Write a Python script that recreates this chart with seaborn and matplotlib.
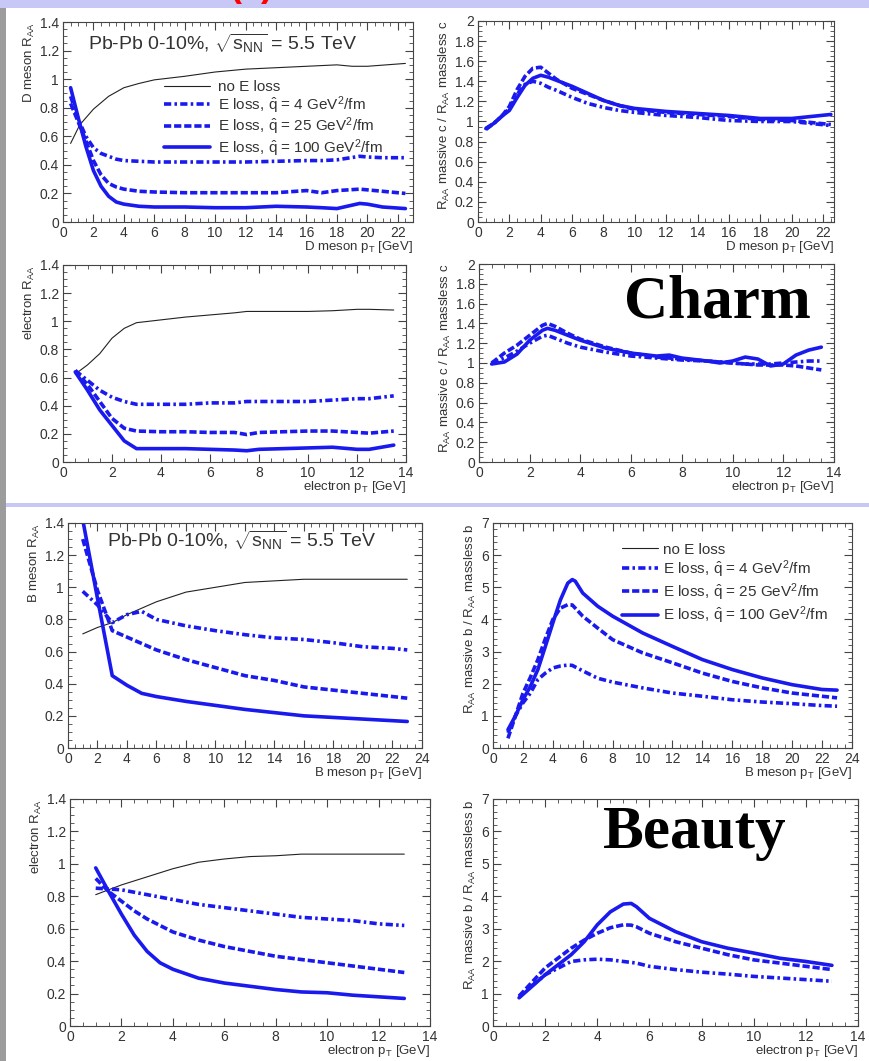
import numpy as np
import pandas as pd
import matplotlib
matplotlib.use("Agg")
import matplotlib.pyplot as plt
import seaborn as sns
from matplotlib.ticker import MultipleLocator, FuncFormatter
from matplotlib.lines import Line2D
from matplotlib.patches import Rectangle

# ---------------- data ----------------
# Charm, D meson R_AA
d_pt_noloss = [0.5, 1.1, 2, 3, 4, 5, 6, 8, 10, 12, 14, 16, 18, 19, 20, 22.5]
d_raa_noloss = [0.55, 0.68, 0.79, 0.88, 0.94, 0.97, 0.995, 1.02, 1.05, 1.07, 1.08, 1.09, 1.10, 1.09, 1.09, 1.11]
d_pt = [0.5, 1, 1.5, 2, 2.5, 3, 3.5, 4, 5, 6, 8, 10, 12, 14, 16, 17, 18, 19.5, 20, 21, 22.5]
d_raa_q4 = [0.88, 0.72, 0.60, 0.52, 0.48, 0.46, 0.44, 0.43, 0.425, 0.42, 0.42, 0.42, 0.42, 0.425, 0.43, 0.43, 0.435, 0.46, 0.455, 0.45, 0.45]
d_raa_q25 = [0.83, 0.70, 0.57, 0.43, 0.33, 0.27, 0.245, 0.23, 0.215, 0.21, 0.205, 0.205, 0.205, 0.205, 0.22, 0.205, 0.22, 0.23, 0.225, 0.215, 0.20]
d_raa_q100 = [0.94, 0.73, 0.53, 0.36, 0.25, 0.18, 0.14, 0.125, 0.11, 0.105, 0.105, 0.10, 0.10, 0.11, 0.105, 0.10, 0.094, 0.13, 0.125, 0.105, 0.094]

# Charm, D meson ratio massive/massless
dr_pt = [0.5, 1, 1.5, 2, 2.5, 3, 3.5, 4, 4.5, 5, 6, 7, 8, 9, 10, 12, 14, 16, 18, 20, 22.5]
dr_q4 = [0.92, 0.98, 1.05, 1.13, 1.27, 1.37, 1.40, 1.38, 1.34, 1.31, 1.24, 1.18, 1.14, 1.11, 1.09, 1.06, 1.04, 1.01, 1.00, 1.00, 0.96]
dr_q25 = [0.93, 0.98, 1.05, 1.15, 1.32, 1.45, 1.53, 1.54, 1.48, 1.42, 1.33, 1.27, 1.21, 1.16, 1.12, 1.09, 1.07, 1.05, 1.02, 1.01, 0.97]
dr_q100 = [0.93, 0.98, 1.05, 1.11, 1.24, 1.36, 1.43, 1.46, 1.44, 1.41, 1.35, 1.28, 1.21, 1.16, 1.13, 1.10, 1.08, 1.06, 1.03, 1.03, 1.07]

# Charm, electron R_AA
ce_pt = [0.5, 1, 1.5, 2, 2.5, 3, 4, 5, 6, 7, 7.5, 8, 9, 10, 11, 12, 12.5, 13.5]
ce_noloss = [0.625, 0.69, 0.77, 0.88, 0.95, 0.99, 1.01, 1.03, 1.045, 1.06, 1.07, 1.07, 1.07, 1.07, 1.075, 1.085, 1.085, 1.08]
ce_q4 = [0.65, 0.58, 0.51, 0.46, 0.43, 0.41, 0.41, 0.41, 0.42, 0.42, 0.43, 0.43, 0.43, 0.43, 0.44, 0.45, 0.45, 0.47]
ce_q25 = [0.65, 0.55, 0.43, 0.31, 0.24, 0.22, 0.215, 0.215, 0.21, 0.21, 0.195, 0.21, 0.215, 0.22, 0.22, 0.21, 0.205, 0.22]
ce_q100 = [0.64, 0.51, 0.37, 0.26, 0.15, 0.095, 0.095, 0.095, 0.09, 0.085, 0.08, 0.09, 0.095, 0.10, 0.105, 0.09, 0.09, 0.12]

# Charm, electron ratio
cer_pt = [0.5, 1, 1.5, 2, 2.5, 2.7, 3, 3.5, 4, 5, 6, 7, 7.5, 8, 9, 9.5, 10, 10.5, 11, 11.5, 12, 12.5, 13, 13.5]
cer_q4 = [1.0, 1.05, 1.12, 1.2, 1.27, 1.28, 1.25, 1.20, 1.16, 1.11, 1.07, 1.05, 1.04, 1.03, 1.02, 1.01, 1.00, 0.99, 0.99, 0.99, 1.00, 1.01, 1.02, 1.02]
cer_q25 = [1.0, 1.1, 1.18, 1.28, 1.38, 1.40, 1.37, 1.30, 1.24, 1.16, 1.10, 1.06, 1.05, 1.04, 1.02, 1.01, 1.00, 0.99, 0.98, 0.98, 0.98, 0.97, 0.95, 0.93]
cer_q100 = [0.99, 1.01, 1.09, 1.23, 1.33, 1.35, 1.33, 1.28, 1.23, 1.15, 1.10, 1.07, 1.08, 1.05, 1.02, 1.00, 1.02, 1.06, 1.04, 0.97, 0.99, 1.08, 1.13, 1.16]

# Beauty, B meson R_AA
b_pt_noloss = [1, 2, 3, 4, 5, 6, 7, 8, 10, 12, 14, 16, 18, 20, 23]
b_raa_noloss = [0.71, 0.75, 0.78, 0.83, 0.87, 0.91, 0.94, 0.97, 1.00, 1.03, 1.04, 1.05, 1.05, 1.05, 1.05]
b_pt = [1, 2, 3, 4, 5, 6, 8, 10, 12, 14, 16, 18, 20, 22, 23]
b_raa_q4 = [0.975, 0.89, 0.78, 0.83, 0.85, 0.80, 0.76, 0.73, 0.705, 0.685, 0.675, 0.655, 0.63, 0.62, 0.61]
b_raa_q25 = [1.30, 0.98, 0.73, 0.69, 0.65, 0.61, 0.55, 0.50, 0.45, 0.42, 0.38, 0.36, 0.34, 0.32, 0.31]
b_raa_q100 = [1.42, 0.93, 0.45, 0.39, 0.34, 0.32, 0.29, 0.265, 0.24, 0.22, 0.20, 0.19, 0.18, 0.17, 0.165]

# Beauty, B meson ratio
br_pt = [1, 1.5, 2, 2.5, 3, 3.5, 4, 4.5, 5, 5.3, 5.5, 6, 7, 8, 10, 12, 14, 16, 18, 20, 22, 23]
br_q4 = [0.47, 1.0, 1.4, 1.71, 2.13, 2.33, 2.49, 2.55, 2.58, 2.57, 2.52, 2.40, 2.17, 2.05, 1.87, 1.71, 1.61, 1.50, 1.43, 1.38, 1.32, 1.30]
br_q25 = [0.30, 1.0, 1.7, 2.2, 2.75, 3.4, 4.0, 4.35, 4.46, 4.45, 4.35, 4.10, 3.73, 3.37, 2.96, 2.65, 2.33, 2.07, 1.87, 1.71, 1.61, 1.56]
br_q100 = [0.57, 1.0, 1.5, 1.92, 2.44, 3.16, 3.89, 4.6, 5.13, 5.24, 5.19, 4.82, 4.41, 4.10, 3.58, 3.16, 2.75, 2.44, 2.18, 1.97, 1.82, 1.80]

# Beauty, electron R_AA
be_pt = [1, 1.5, 2, 2.5, 3, 3.5, 4, 5, 6, 7, 8, 9, 10, 11, 12, 13]
be_noloss = [0.81, 0.84, 0.87, 0.895, 0.92, 0.945, 0.97, 1.01, 1.03, 1.045, 1.05, 1.06, 1.06, 1.06, 1.06, 1.06]
be_q4 = [0.85, 0.845, 0.84, 0.825, 0.81, 0.795, 0.78, 0.75, 0.73, 0.71, 0.69, 0.67, 0.66, 0.65, 0.63, 0.62]
be_q25 = [0.91, 0.83, 0.77, 0.71, 0.66, 0.62, 0.58, 0.53, 0.49, 0.46, 0.43, 0.41, 0.39, 0.37, 0.35, 0.33]
be_q100 = [0.975, 0.83, 0.69, 0.56, 0.46, 0.39, 0.35, 0.295, 0.265, 0.245, 0.225, 0.21, 0.205, 0.19, 0.18, 0.17]

# Beauty, electron ratio
ber_pt = [1, 2, 3, 3.5, 4, 4.5, 5, 5.3, 5.5, 6, 7, 8, 9, 10, 11, 12, 13]
ber_q4 = [0.92, 1.58, 1.99, 2.04, 2.06, 2.04, 1.99, 1.96, 1.94, 1.84, 1.74, 1.66, 1.60, 1.53, 1.48, 1.43, 1.38]
ber_q25 = [0.92, 1.79, 2.4, 2.65, 2.86, 3.03, 3.12, 3.11, 3.06, 2.86, 2.60, 2.40, 2.20, 2.04, 1.94, 1.84, 1.74]
ber_q100 = [0.87, 1.58, 2.2, 2.6, 3.12, 3.52, 3.76, 3.78, 3.68, 3.32, 2.91, 2.60, 2.40, 2.25, 2.09, 1.99, 1.87]

legend_labels = ["no E loss",
                 r"E loss, $\hat{\mathrm{q}}$ = 4 GeV$^{2}$/fm",
                 r"E loss, $\hat{\mathrm{q}}$ = 25 GeV$^{2}$/fm",
                 r"E loss, $\hat{\mathrm{q}}$ = 100 GeV$^{2}$/fm"]

# ---------------- style ----------------
sns.set_theme(style="ticks")
plt.rcParams["font.family"] = ["Liberation Sans", "DejaVu Sans"]
plt.rcParams["mathtext.fontset"] = "custom"
plt.rcParams["mathtext.rm"] = "Liberation Sans"
plt.rcParams["mathtext.it"] = "Liberation Sans:italic"
plt.rcParams["mathtext.bf"] = "Liberation Sans:bold"

BLUE = "#1a1aee"
TXT = "#333333"
W, H = 870, 1061
fig = plt.figure(figsize=(W / 100, H / 100), dpi=100)
fig.patch.set_facecolor("white")

# page decorations
fig.patches.append(Rectangle((0, 1 - 8 / H), 1, 8 / H, transform=fig.transFigure,
                             facecolor="#c8c8f6", edgecolor="none", zorder=0))
fig.patches.append(Rectangle((0, 0), 6 / W, 1 - 8 / H, transform=fig.transFigure,
                             facecolor="#9c9c9c", edgecolor="none", zorder=0))
fig.patches.append(Rectangle((6 / W, (H - 507) / H), 1, 4 / H, transform=fig.transFigure,
                             facecolor="#c8c8f6", edgecolor="none", zorder=0))
fig.text(251 / W, 1 - 3.5 / H, "(c)", color="red", fontsize=26, fontweight="bold",
         ha="center", va="bottom")

STY = {
    "q4": dict(color=BLUE, linewidth=2.6, linestyle=(0, (2.0, 0.9, 0.7, 0.9))),
    "q25": dict(color=BLUE, linewidth=2.6, linestyle=(0, (2.0, 0.8))),
    "q100": dict(color=BLUE, linewidth=2.6, linestyle="-"),
    "noloss": dict(color="#222222", linewidth=0.8, linestyle="-"),
}


def add_ax(px_left, px_right, px_top, px_bottom):
    return fig.add_axes([px_left / W, (H - px_bottom) / H,
                         (px_right - px_left) / W, (px_bottom - px_top) / H])


def style_ax(ax, xlim, ylim, xmaj, xmin, ymaj, ymin, xlabel, ylabel, xpad=-0.5):
    ax.set_xlim(*xlim)
    ax.set_ylim(*ylim)
    ax.xaxis.set_major_locator(MultipleLocator(xmaj))
    ax.xaxis.set_minor_locator(MultipleLocator(xmin))
    ax.yaxis.set_major_locator(MultipleLocator(ymaj))
    ax.yaxis.set_minor_locator(MultipleLocator(ymin))
    fmt = FuncFormatter(lambda v, p: "%g" % round(v, 6))
    ax.xaxis.set_major_formatter(fmt)
    ax.yaxis.set_major_formatter(fmt)
    ax.tick_params(which="both", direction="in", top=True, right=True,
                   labelsize=10, colors="#444444", labelcolor=TXT)
    ax.tick_params(which="major", length=6, width=0.8, pad=3)
    ax.tick_params(which="minor", length=3, width=0.6)
    for s in ax.spines.values():
        s.set_linewidth(0.8)
        s.set_color("#444444")
    ax.set_xlabel(xlabel, loc="right", fontsize=9.5, color=TXT, labelpad=xpad)
    ax.set_ylabel(ylabel, loc="top", fontsize=9.5, color=TXT, labelpad=2)
    ax.set_facecolor("white")


def draw(ax, x, y, key):
    sns.lineplot(x=x, y=y, ax=ax, legend=False, sort=False, estimator=None, **STY[key])


def legend(ax, anchor, spacing, hlen, hpad):
    handles = [Line2D([], [], **STY[k]) for k in ["noloss", "q4", "q25", "q100"]]
    ax.legend(handles, legend_labels, loc="upper left", bbox_to_anchor=anchor,
              frameon=False, fontsize=11, handlelength=hlen, handletextpad=hpad,
              labelspacing=spacing, borderpad=0, borderaxespad=0, labelcolor=TXT)


TITLE = r"Pb-Pb 0-10%, $\sqrt{\mathrm{s}_{\mathrm{NN}}}$ = 5.5 TeV"

# ---- Panel 1: D meson RAA ----
ax1 = add_ax(63, 413, 22, 222)
draw(ax1, d_pt_noloss, d_raa_noloss, "noloss")
draw(ax1, d_pt, d_raa_q4, "q4")
draw(ax1, d_pt, d_raa_q25, "q25")
draw(ax1, d_pt, d_raa_q100, "q100")
style_ax(ax1, (0, 23), (0, 1.4), 2, 0.5, 0.2, 0.05,
         r"D meson p$_{\mathrm{T}}$ [GeV]", r"D meson R$_{\mathrm{AA}}$")
ax1.text(0.072, 0.895, TITLE, transform=ax1.transAxes, fontsize=14, color=TXT,
         va="center", ha="left")
legend(ax1, (0.29, 0.71), 0.0, 2.95, 0.52)

# ---- Panel 2: D meson ratio ----
ax2 = add_ax(478, 834, 21, 222)
draw(ax2, dr_pt, dr_q4, "q4")
draw(ax2, dr_pt, dr_q25, "q25")
draw(ax2, dr_pt, dr_q100, "q100")
style_ax(ax2, (0, 22.7), (0, 2), 2, 0.5, 0.2, 0.05,
         r"D meson p$_{\mathrm{T}}$ [GeV]",
         r"R$_{\mathrm{AA}}$ massive c / R$_{\mathrm{AA}}$ massless c")

# ---- Panel 3: charm electron RAA ----
ax3 = add_ax(63, 406, 265, 462)
draw(ax3, ce_pt, ce_noloss, "noloss")
draw(ax3, ce_pt, ce_q4, "q4")
draw(ax3, ce_pt, ce_q25, "q25")
draw(ax3, ce_pt, ce_q100, "q100")
style_ax(ax3, (0, 14), (0, 1.4), 2, 0.5, 0.2, 0.05,
         r"electron p$_{\mathrm{T}}$ [GeV]", r"electron R$_{\mathrm{AA}}$")

# ---- Panel 4: charm electron ratio ----
ax4 = add_ax(479, 834, 264, 462)
draw(ax4, cer_pt, cer_q4, "q4")
draw(ax4, cer_pt, cer_q25, "q25")
draw(ax4, cer_pt, cer_q100, "q100")
style_ax(ax4, (0, 14), (0, 2), 2, 0.5, 0.2, 0.05,
         r"electron p$_{\mathrm{T}}$ [GeV]",
         r"R$_{\mathrm{AA}}$ massive c / R$_{\mathrm{AA}}$ massless c")

# ---- Panel 5: B meson RAA ----
ax5 = add_ax(68, 422, 523, 748)
draw(ax5, b_pt_noloss, b_raa_noloss, "noloss")
draw(ax5, b_pt, b_raa_q4, "q4")
draw(ax5, b_pt, b_raa_q25, "q25")
draw(ax5, b_pt, b_raa_q100, "q100")
style_ax(ax5, (0, 24), (0, 1.4), 2, 0.5, 0.2, 0.05,
         r"B meson p$_{\mathrm{T}}$ [GeV]", r"B meson R$_{\mathrm{AA}}$")
ax5.text(0.11, 0.925, TITLE, transform=ax5.transAxes, fontsize=14, color=TXT,
         va="center", ha="left")

# ---- Panel 6: B meson ratio ----
ax6 = add_ax(493, 852, 523, 748)
draw(ax6, br_pt, br_q4, "q4")
draw(ax6, br_pt, br_q25, "q25")
draw(ax6, br_pt, br_q100, "q100")
style_ax(ax6, (0, 24), (0, 7), 2, 0.5, 1, 0.2,
         r"B meson p$_{\mathrm{T}}$ [GeV]",
         r"R$_{\mathrm{AA}}$ massive b / R$_{\mathrm{AA}}$ massless b")
legend(ax6, (0.36, 0.913), 0.1, 2.35, 0.33)

# ---- Panel 7: beauty electron RAA ----
ax7 = add_ax(70, 430, 799, 1026)
draw(ax7, be_pt, be_noloss, "noloss")
draw(ax7, be_pt, be_q4, "q4")
draw(ax7, be_pt, be_q25, "q25")
draw(ax7, be_pt, be_q100, "q100")
style_ax(ax7, (0, 14), (0, 1.4), 2, 0.5, 0.2, 0.05,
         r"electron p$_{\mathrm{T}}$ [GeV]", r"electron R$_{\mathrm{AA}}$", xpad=-1)

# ---- Panel 8: beauty electron ratio ----
ax8 = add_ax(493, 858, 799, 1026)
draw(ax8, ber_pt, ber_q4, "q4")
draw(ax8, ber_pt, ber_q25, "q25")
draw(ax8, ber_pt, ber_q100, "q100")
style_ax(ax8, (0, 14), (0, 7), 2, 0.5, 1, 0.2,
         r"electron p$_{\mathrm{T}}$ [GeV]",
         r"R$_{\mathrm{AA}}$ massive b / R$_{\mathrm{AA}}$ massless b", xpad=-1)

# big labels
fig.text(624 / W, (H - 318) / H, "Charm", fontsize=44, fontweight="bold",
         family="Liberation Serif", color="black", ha="left", va="baseline")
fig.text(603 / W, (H - 848) / H, "Beauty", fontsize=44, fontweight="bold",
         family="Liberation Serif", color="black", ha="left", va="baseline")

fig.savefig("out.png", dpi=100, facecolor="white")
